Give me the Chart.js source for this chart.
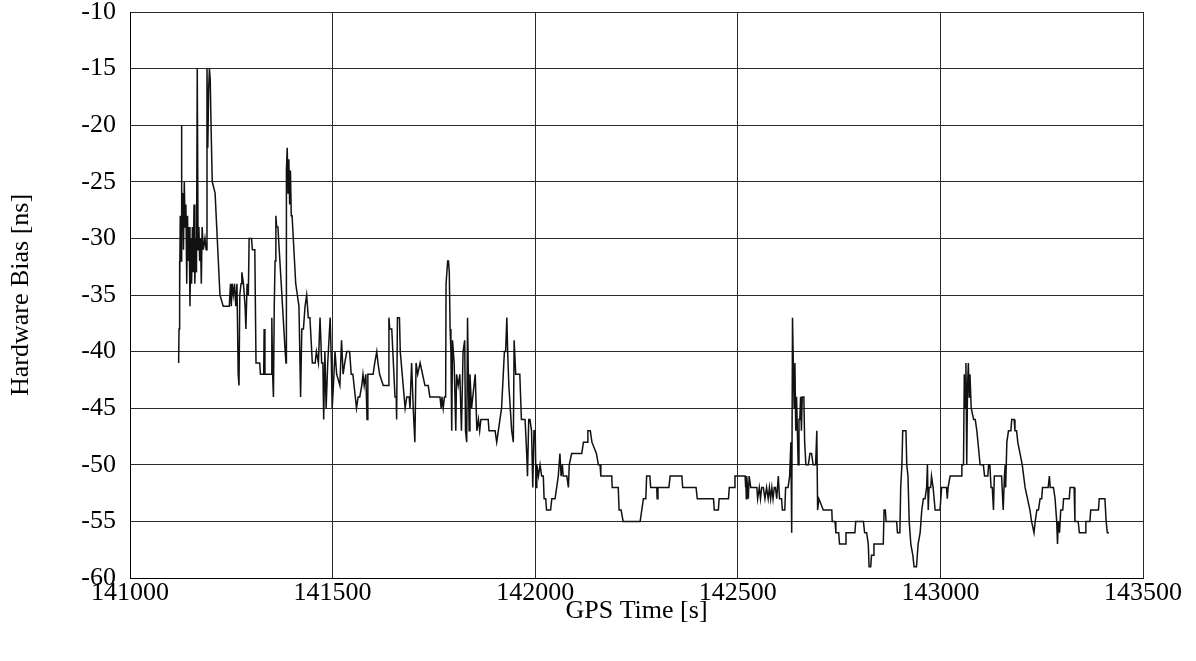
<!DOCTYPE html>
<html>
<head>
<meta charset="utf-8">
<script src="https://cdn.jsdelivr.net/npm/chart.js@4.4.1/dist/chart.umd.min.js"></script>
<style>
  html, body { margin: 0; padding: 0; background: #fff; }
  #biasChart { display: block; }
</style>
</head>
<body>
<canvas id="biasChart" width="1196" height="661"></canvas>
<script>
// GPS time stamps [s]
const gpsTime = [
    141120, 141121, 141122, 141123, 141124, 141126, 141127, 141128, 141130, 141132, 141134, 141136, 141138, 141140, 141142, 141144, 141146, 141148, 141150, 141152, 141154, 141156, 141158, 141160, 141162, 141164, 141166, 141168, 141170, 141172, 141174, 141176, 141178, 141181, 141185, 141188, 141190, 141192, 141194, 141196, 141198, 141200, 141203, 141210, 141222, 141230, 141245,
    141248, 141250, 141252, 141255, 141258, 141261, 141264, 141267, 141269, 141271, 141274, 141276, 141280, 141284, 141286, 141289, 141292, 141294, 141300, 141302, 141308, 141311,
    141320, 141322, 141330, 141331, 141333, 141348, 141350, 141352, 141354, 141356, 141358, 141360, 141362, 141365, 141383, 141385, 141386, 141388, 141390, 141392, 141394, 141396, 141398, 141400, 141409, 141413, 141417, 141421, 141424, 141428, 141432, 141436, 141440, 141444, 141450, 141457, 141460, 141465, 141469, 141473, 141476, 141478, 141481, 141484, 141488, 141494, 141497, 141499, 141502, 141506, 141510,
    141518, 141522, 141526, 141530, 141535, 141542, 141546, 141550, 141559, 141563, 141567, 141572, 141575, 141578, 141582, 141585, 141587, 141600, 141604, 141609, 141612, 141616, 141625, 141637, 141639, 141641, 141646, 141654, 141657, 141658, 141660, 141665, 141667, 141679, 141683, 141689, 141691, 141695, 141699, 141703, 141706, 141710, 141716, 141722, 141728,
    141736, 141740, 141765, 141768, 141770, 141773, 141776, 141779, 141780, 141784, 141786, 141788, 141790, 141792, 141794, 141796, 141800, 141804, 141806, 141810, 141814, 141818, 141822, 141826, 141828, 141831, 141833, 141837, 141839, 141843, 141852, 141856, 141860, 141863, 141866, 141884, 141886, 141901, 141905, 141909, 141917, 141924, 141927, 141930, 141932, 141935, 141942, 141946, 141948,
    141952, 141962, 141966, 141975, 141979, 141981, 141984, 141987, 141991, 141994, 141997, 142000, 142002, 142004, 142008, 142012, 142016, 142020, 142022, 142026, 142028, 142038, 142041, 142049, 142053, 142057, 142061, 142064, 142067, 142069, 142078, 142082, 142084, 142090, 142115, 142119, 142128, 142130, 142136, 142140,
    142151, 142156, 142160, 142162, 142189, 142190, 142205, 142207, 142212, 142217, 142259, 142263, 142267, 142273, 142275, 142283, 142285, 142300, 142301, 142303, 142330, 142333, 142362, 142364,
    142397, 142400, 142440, 142442, 142452, 142454, 142477, 142479, 142491, 142493, 142518, 142519, 142520, 142521, 142522, 142524, 142526, 142528, 142532, 142547, 142549, 142553, 142556, 142559, 142563, 142567, 142571,
    142575, 142578, 142581, 142584, 142587, 142590, 142593, 142596, 142600, 142603, 142608, 142610, 142616, 142618, 142624, 142628, 142631, 142633, 142635, 142637, 142639, 142641, 142643, 142645, 142647, 142649, 142651, 142653, 142655, 142657, 142659, 142663, 142665, 142668, 142674, 142678, 142682, 142686, 142692, 142695, 142697, 142700, 142711, 142732, 142733, 142740, 142742, 142749, 142751, 142765, 142767, 142789, 142791,
    142810, 142813, 142818, 142822, 142824, 142828, 142830, 142834, 142836, 142859, 142861, 142864, 142866, 142892, 142894, 142900, 142902, 142905, 142907, 142909, 142912, 142915, 142917, 142920, 142923, 142927, 142932, 142935, 142941, 142945, 142950, 142954, 142958, 142962, 142966, 142968, 142970, 142972, 142976, 142978, 142982, 142987, 142999,
    143001, 143003, 143015, 143017, 143019, 143024, 143036, 143051, 143053, 143057, 143059, 143061, 143063, 143065, 143067, 143069, 143071, 143073, 143076, 143082, 143086, 143090, 143098, 143106, 143109, 143117, 143119, 143122, 143125, 143128, 143131, 143133, 143151, 143155, 143158, 143160, 143161, 143164, 143168, 143174, 143176, 143182, 143184, 143188, 143191, 143202,
    143209, 143221, 143225, 143231, 143234, 143238, 143242, 143246, 143250, 143252, 143266, 143269, 143271, 143279, 143283, 143287, 143289, 143291, 143294, 143297, 143302, 143304, 143318, 143320, 143330, 143332, 143340, 143343, 143357, 143359, 143369, 143371, 143390, 143392, 143406, 143409, 143412, 143416
];

// hardware bias [ns], one per time stamp
const hwBias = [
    -41, -38, -32, -35, -28, -32, -20, -29, -26, -31, -25, -29, -27, -34, -28, -32, -29, -36, -30, -34, -29, -33, -27, -34, -30, -33, -15, -31, -29, -32, -30, -34, -29, -31, -30, -31, -15, -22, -17, -15, -16, -20, -25, -26, -35, -36, -36,
    -34, -36, -34, -35, -34, -36, -34, -42, -43, -35, -34, -33, -34, -36, -38, -34, -35, -30, -30, -31, -31, -41,
    -41, -42, -42, -38, -42, -42, -37, -42, -44, -36, -32, -28, -29, -29, -40, -41, -24, -22, -26, -23, -27, -24, -28, -28, -34, -35, -36, -44, -38, -38, -36, -35, -37, -37, -41, -41, -40, -41, -37, -41, -41, -46, -40, -45, -41, -37, -41, -45, -43, -40, -42,
    -43, -39, -42, -41, -40, -40, -42, -42, -45, -44, -44, -43, -42, -43, -42, -46, -42, -42, -41, -40, -41, -42, -43, -43, -37, -38, -38, -44, -44, -46, -37, -37, -40, -45, -44, -44, -45, -41, -45, -48, -41, -42, -41, -42, -43,
    -43, -44, -44, -45, -44, -45, -44, -44, -34, -32, -32, -33, -38, -40, -47, -39, -41, -47, -42, -43, -42, -47, -40, -39, -47, -48, -37, -47, -42, -45, -42, -47, -46, -47, -46, -46, -47, -47, -48, -47, -45, -40, -40, -37, -40, -43, -47, -48, -39,
    -42, -42, -46, -46, -49, -51, -46, -46, -47, -52, -47, -47, -52, -50, -51, -50, -51, -51, -53, -53, -54, -54, -53, -53, -52, -51, -49, -51, -50, -51, -51, -52, -50, -49, -49, -48, -48, -47, -47, -48,
    -49, -50, -50, -51, -51, -52, -52, -54, -54, -55, -55, -54, -53, -53, -51, -51, -52, -52, -53, -52, -52, -51, -51, -52,
    -52, -53, -53, -54, -54, -53, -53, -52, -52, -51, -51, -52, -51, -53, -51, -52, -53, -51, -52, -52, -53, -52, -53, -52, -52, -53, -52,
    -53, -52, -53, -52, -53, -52, -52, -53, -51, -53, -53, -54, -54, -52, -52, -51, -48, -56, -37, -41, -45, -41, -47, -44, -47, -50, -46, -46, -44, -47, -44, -44, -48, -50, -50, -49, -49, -50, -50, -47, -54, -53, -54, -54, -55, -55, -56, -56, -57, -57, -56, -56, -55,
    -55, -56, -56, -57, -59, -59, -58, -58, -57, -57, -54, -54, -55, -55, -56, -56, -52, -50, -47, -47, -47, -47, -50, -51, -55, -57, -58, -59, -59, -57, -56, -54, -53, -53, -52, -50, -54, -52, -52, -51, -52, -54, -54,
    -53, -52, -52, -53, -52, -51, -51, -51, -50, -50, -42, -45, -41, -50, -43, -41, -44, -42, -45, -46, -46, -47, -50, -50, -51, -51, -50, -50, -52, -52, -54, -51, -51, -54, -51, -50, -52, -48, -47, -47, -46, -46, -47, -47, -48, -50,
    -52, -54, -55, -56, -55, -54, -54, -53, -53, -52, -52, -51, -52, -52, -53, -55, -57, -55, -56, -54, -54, -53, -53, -52, -52, -55, -55, -56, -56, -55, -55, -54, -54, -53, -53, -55, -56, -56
];

const xTickValues = [141000, 141500, 142000, 142500, 143000, 143500];
const yTickValues = [-60, -55, -50, -45, -40, -35, -30, -25, -20, -15, -10];

const xTitle = "GPS Time [s]";
const yTitle = "Hardware Bias [ns]";

if (gpsTime.length !== hwBias.length) {
    console.error("length mismatch", gpsTime.length, hwBias.length);
}

const points = gpsTime.map((t, i) => ({ x: t, y: hwBias[i] }));

const serif = "'Liberation Serif', 'Times New Roman', serif";
const tickFont = { family: serif, size: 26, lineHeight: 1 };
const titleFont = { family: serif, size: 26, lineHeight: 1.2 };
const gridColor = "#2a2a2a";

const ctx = document.getElementById("biasChart").getContext("2d");
const chart = new Chart(ctx, {
    type: "line",
    data: {
        datasets: [{
            data: points,
            borderColor: "#111",
            borderWidth: 1.5,
            pointRadius: 0,
            tension: 0,
            fill: false
        }]
    },
    options: {
        responsive: false,
        animation: false,
        layout: {
            padding: { left: 0, top: 0, right: 53, bottom: 0 }
        },
        plugins: {
            legend: { display: false },
            tooltip: { enabled: false }
        },
        scales: {
            x: {
                type: "linear",
                min: xTickValues[0],
                max: xTickValues[xTickValues.length - 1],
                afterBuildTicks: (scale) => {
                    scale.ticks = xTickValues.map(v => ({ value: v }));
                },
                afterFit: (scale) => { scale.height = 83; },
                grid: { color: gridColor, lineWidth: 1, drawTicks: false },
                border: { color: "#000", width: 1 },
                ticks: {
                    font: tickFont,
                    color: "#000",
                    padding: 2,
                    maxRotation: 0,
                    callback: (v) => String(v)
                },
                title: {
                    display: true,
                    text: xTitle,
                    font: titleFont,
                    color: "#000",
                    padding: { top: 0, bottom: 34 }
                }
            },
            y: {
                type: "linear",
                min: yTickValues[0],
                max: yTickValues[yTickValues.length - 1],
                afterBuildTicks: (scale) => {
                    scale.ticks = yTickValues.map(v => ({ value: v }));
                },
                afterFit: (scale) => {
                    scale.width = 130;
                    // plot frame sits 12px below the canvas top, like the source
                    scale.paddingTop = 12;
                    scale.paddingBottom = 0;
                },
                grid: { color: gridColor, lineWidth: 1, drawTicks: false },
                border: { color: "#000", width: 1 },
                ticks: {
                    font: tickFont,
                    color: "#000",
                    padding: 14,
                    callback: (v) => String(v)
                },
                title: {
                    display: true,
                    text: yTitle,
                    font: titleFont,
                    color: "#000",
                    padding: { top: 6, bottom: 0 }
                }
            }
        }
    }
});
</script>
</body>
</html>
